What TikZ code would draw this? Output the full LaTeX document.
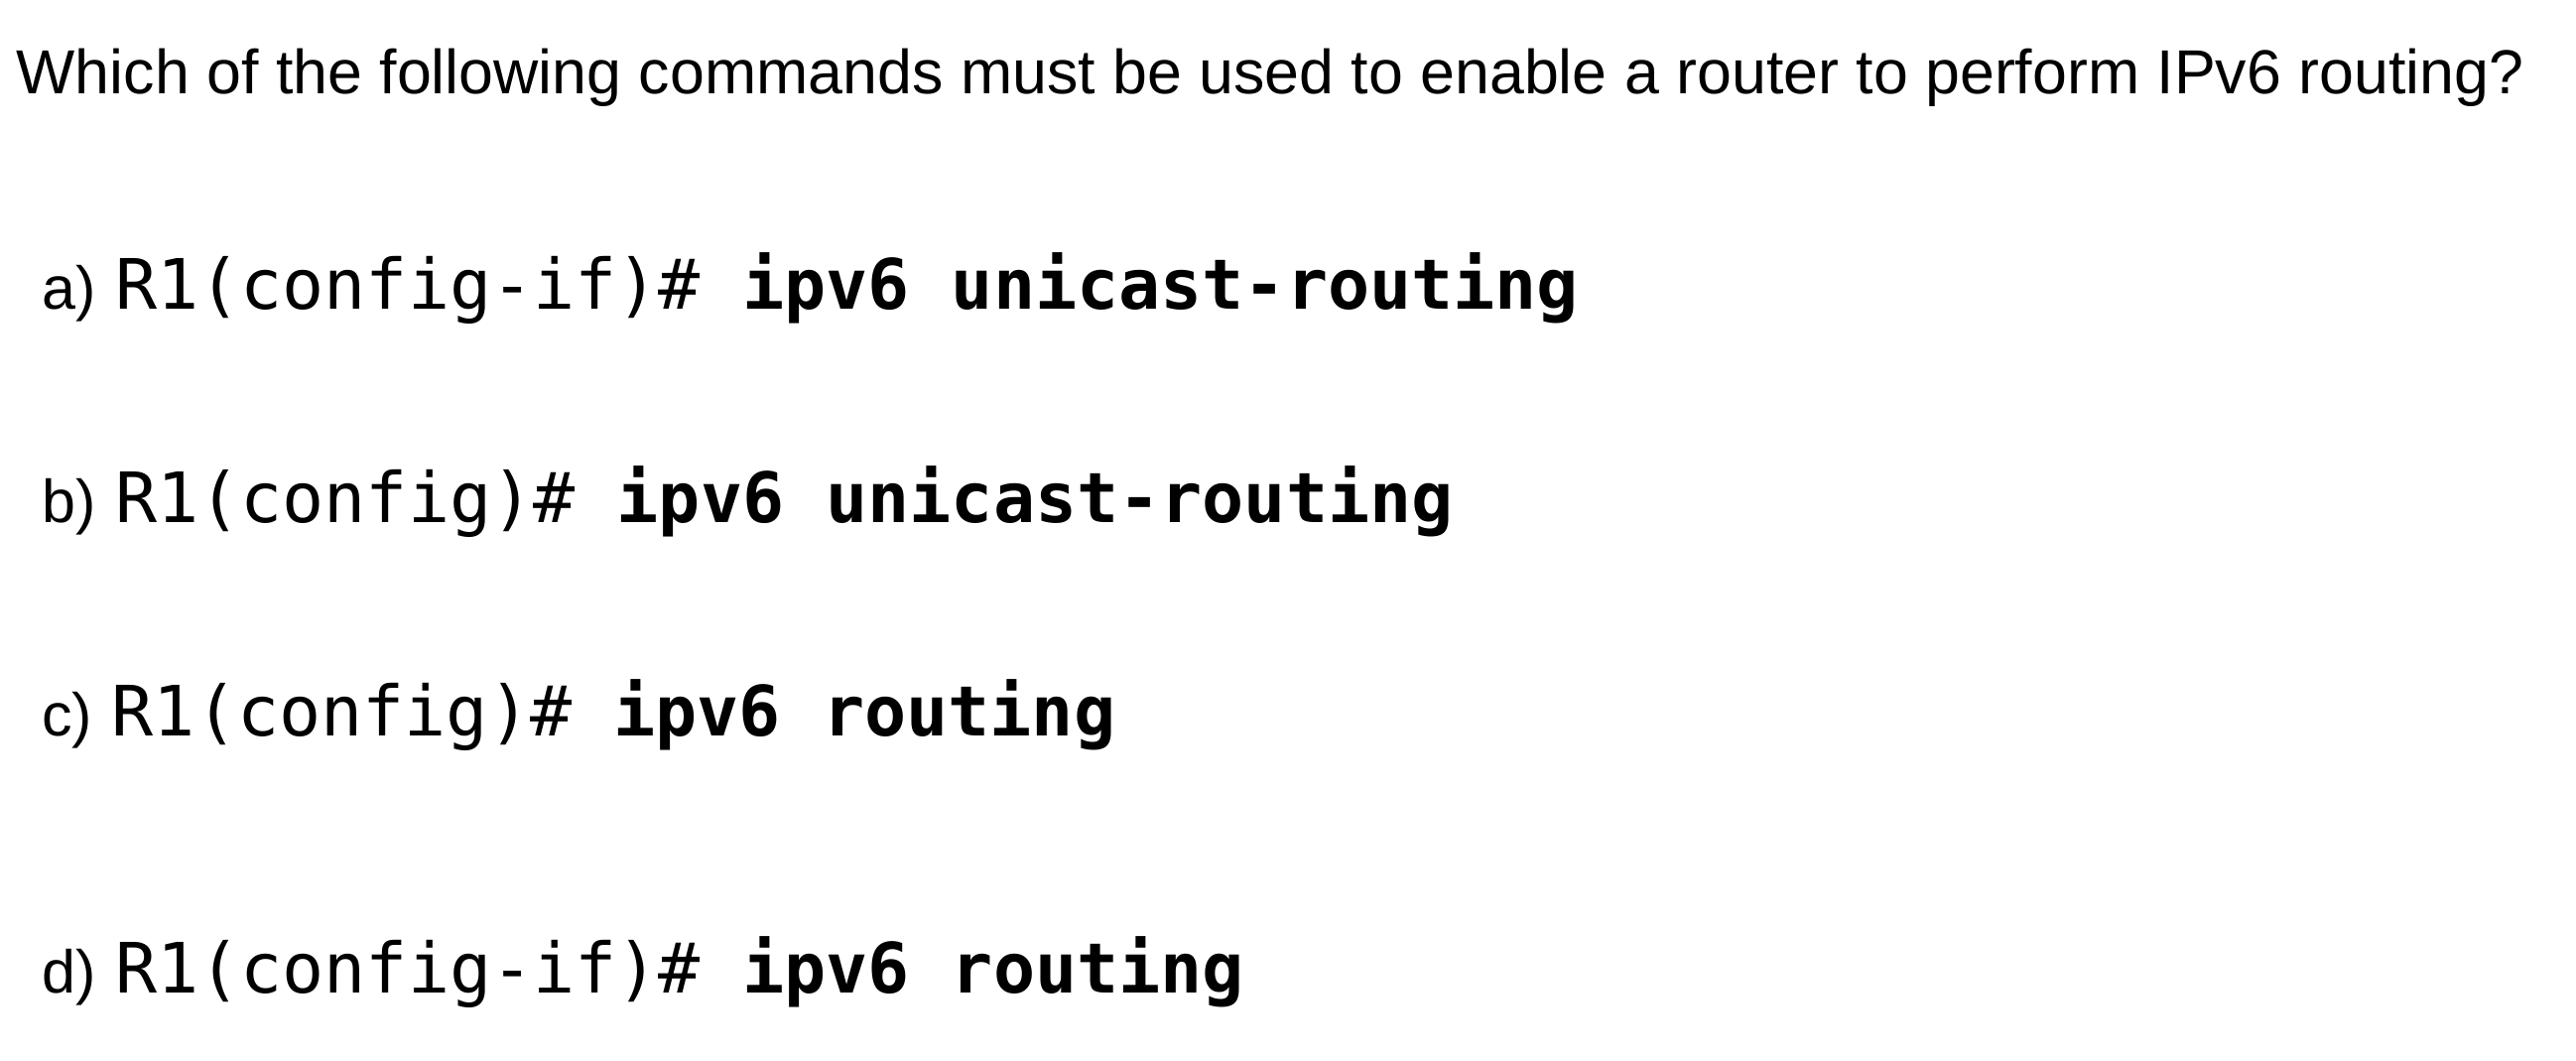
\documentclass[tikz,border=0pt]{standalone}
\usepackage{fontspec}
\setmainfont{Liberation Sans}
\setmonofont{DejaVu Sans Mono}
\usetikzlibrary{positioning}

\begin{document}
\begin{tikzpicture}[x=1pt,y=-1pt,
question/.style={anchor=base west,inner sep=0pt,font=\fontsize{62.7}{72}\selectfont},
opt/.style={anchor=base west,inner sep=0pt,font=\fontsize{61}{70}\selectfont},
cmd/.style={anchor=base west,inner sep=0pt,font=\fontsize{70}{80}\selectfont\ttfamily}]
\useasboundingbox[fill=white] (0,0) rectangle (2596,1068);

% question
\node[question] (Q) at (16.6,94.4) {Which of the following commands must be used to enable a router to perform IPv6 routing?};

% answers
\node[opt] (A) at (42,311) {a)};
\node[cmd] (CA) at (115.9,311) {R1(config-if)\# \textbf{ipv6 unicast-routing}};
\node[opt] (B) at (42,526.5) {b)};
\node[cmd] (CB) at (115.9,526.5) {R1(config)\# \textbf{ipv6 unicast-routing}};
\node[opt] (C) at (42,741.7) {c)};
\node[cmd] (CC) at (112.6,741.7) {R1(config)\# \textbf{ipv6 routing}};
\node[opt] (D) at (42,1000) {d)};
\node[cmd] (CD) at (115.9,1000) {R1(config-if)\# \textbf{ipv6 routing}};
\end{tikzpicture}
\end{document}
